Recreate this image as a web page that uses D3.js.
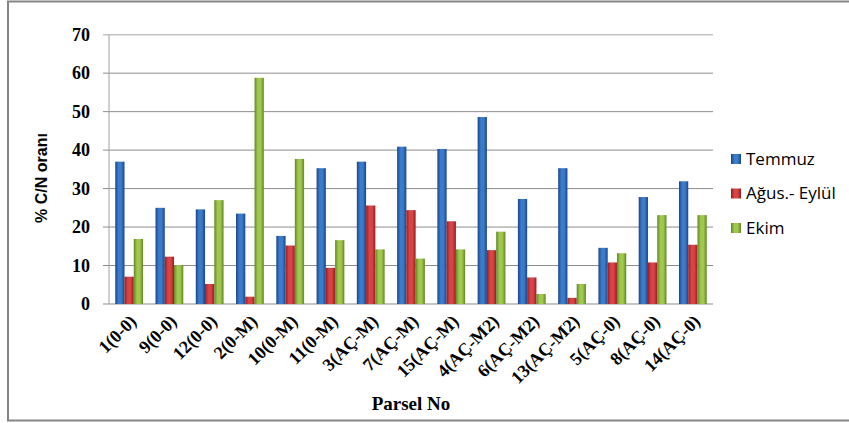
<!DOCTYPE html>
<html>
<head>
<meta charset="utf-8">
<script src="https://cdn.jsdelivr.net/npm/d3@7"></script>
<style>
    body { margin: 0; background: #fff; }
    svg { display: block; }
</style>
</head>
<body>
<div id="chart"></div>
<script>
'use strict';

// data
const parseller = ['1(0-0)', '9(0-0)', '12(0-0)', '2(0-M)', '10(0-M)', '11(0-M)', '3(AÇ-M)', '7(AÇ-M)',
    '15(AÇ-M)', '4(AÇ-M2)', '6(AÇ-M2)', '13(AÇ-M2)', '5(AÇ-0)', '8(AÇ-0)', '14(AÇ-0)'];
const temmuz = [37.0, 25.0, 24.6, 23.5, 17.7, 35.3, 37.0, 40.9, 40.3, 48.6, 27.3, 35.3, 14.6, 27.8, 31.9];
const agusEylul = [7.1, 12.3, 5.2, 1.9, 15.2, 9.4, 25.6, 24.4, 21.5, 14.0, 6.9, 1.6, 10.8, 10.8, 15.4];
const ekim = [16.9, 10.1, 27.0, 58.8, 37.7, 16.6, 14.2, 11.8, 14.2, 18.8, 2.6, 5.2, 13.2, 23.1, 23.1];
const seriNames = ['Temmuz', 'Ağus.- Eylül', 'Ekim'];
const yTicks = [0, 10, 20, 30, 40, 50, 60, 70];

const WIDTH = 849, HEIGHT = 423;
const margin = {top: 34.7, right: 136, bottom: 119, left: 109};
const width = WIDTH - margin.left - margin.right,
    height = HEIGHT - margin.top - margin.bottom;

const colors = [
    {edge: '#1a4585', mid: '#3a7bcc'},
    {edge: '#951c1f', mid: '#d84446'},
    {edge: '#638628', mid: '#a0c84c'}
];

let svg = d3.select('#chart').append('svg')
    .attr('width', WIDTH)
    .attr('height', HEIGHT);

// gradients for the bevel look
let defs = svg.append('defs');
colors.forEach((c, i) => {
    let g = defs.append('linearGradient').attr('id', 'grad' + i)
        .attr('x1', '0%').attr('x2', '100%').attr('y1', '0%').attr('y2', '0%');
    g.append('stop').attr('offset', '0%').attr('stop-color', c.edge);
    g.append('stop').attr('offset', '35%').attr('stop-color', c.mid);
    g.append('stop').attr('offset', '65%').attr('stop-color', c.mid);
    g.append('stop').attr('offset', '100%').attr('stop-color', c.edge);
});

// outer frame
svg.append('path')
    .attr('d', `M${WIDTH + 5},1.5 H8 V420.5 H${WIDTH + 5}`)
    .attr('fill', 'none')
    .attr('stroke', '#858585')
    .attr('stroke-width', 2);

let g = svg.append('g')
    .attr('transform', 'translate(' + margin.left + ',' + margin.top + ')');

let x0 = d3.scaleBand().domain(parseller).range([0, width]).paddingInner(0.31).paddingOuter(0.155);
let x1 = d3.scaleBand().domain(d3.range(3)).range([0, x0.bandwidth()]);
let y = d3.scaleLinear().domain([0, 70]).range([height, 0]);

// gridlines
g.append('g')
    .selectAll('line')
    .data(yTicks)
    .join('line')
    .attr('x1', -6).attr('x2', width)
    .attr('y1', d => y(d)).attr('y2', d => y(d))
    .attr('stroke', d => d === 70 ? '#c4c4c4' : '#8c8c8c')
    .attr('stroke-width', d => d === 70 ? 1.5 : 1);

// y axis line
g.append('line')
    .attr('x1', 0).attr('x2', 0).attr('y1', 0).attr('y2', height)
    .attr('stroke', '#a0a0a0');

// y tick labels
g.append('g')
    .selectAll('text')
    .data(yTicks)
    .join('text')
    .attr('x', -19)
    .attr('y', d => y(d))
    .attr('dy', '0.35em')
    .attr('text-anchor', 'end')
    .style('font', 'bold 18px "Liberation Serif", serif')
    .text(d => d);

// bars
const series = [temmuz, agusEylul, ekim];
let groups = g.append('g')
    .selectAll('g')
    .data(parseller)
    .join('g')
    .attr('transform', d => 'translate(' + x0(d) + ',0)');

groups.selectAll('rect')
    .data((d, i) => series.map((s, k) => ({k: k, v: s[i]})))
    .join('rect')
    .attr('x', d => x1(d.k))
    .attr('y', d => y(d.v))
    .attr('width', x1.bandwidth())
    .attr('height', d => height - y(d.v))
    .attr('fill', d => 'url(#grad' + d.k + ')');

// x category labels
g.append('g')
    .selectAll('text')
    .data(parseller)
    .join('text')
    .attr('transform', d => 'translate(' + (x0(d) + x0.bandwidth() / 2 + 4) + ',' + (height + 14) + ') rotate(-45)')
    .attr('text-anchor', 'end')
    .attr('dy', '0.35em')
    .style('font', 'bold 18px "Liberation Serif", serif')
    .text(d => d);

// axis titles
svg.append('text')
    .attr('x', 411)
    .attr('y', 410)
    .attr('text-anchor', 'middle')
    .style('font', 'bold 19px "Liberation Serif", serif')
    .text('Parsel No');

svg.append('text')
    .attr('transform', 'translate(47,178) rotate(-90)')
    .attr('text-anchor', 'middle')
    .style('font', 'bold 16px "Liberation Sans", Arial, sans-serif')
    .text('% C/N oranı');

// legend
let legend = svg.append('g')
    .selectAll('g')
    .data(seriNames)
    .join('g')
    .attr('transform', (d, i) => 'translate(731,' + (159 + i * 34.5) + ')');

legend.append('rect')
    .attr('x', 0).attr('y', -5)
    .attr('width', 10).attr('height', 10)
    .attr('fill', (d, i) => 'url(#grad' + i + ')');

legend.append('text')
    .attr('x', 15)
    .attr('dy', '0.35em')
    .style('font', '17px "Open Sans", "Liberation Sans", sans-serif')
    .text(d => d);
</script>
</body>
</html>
